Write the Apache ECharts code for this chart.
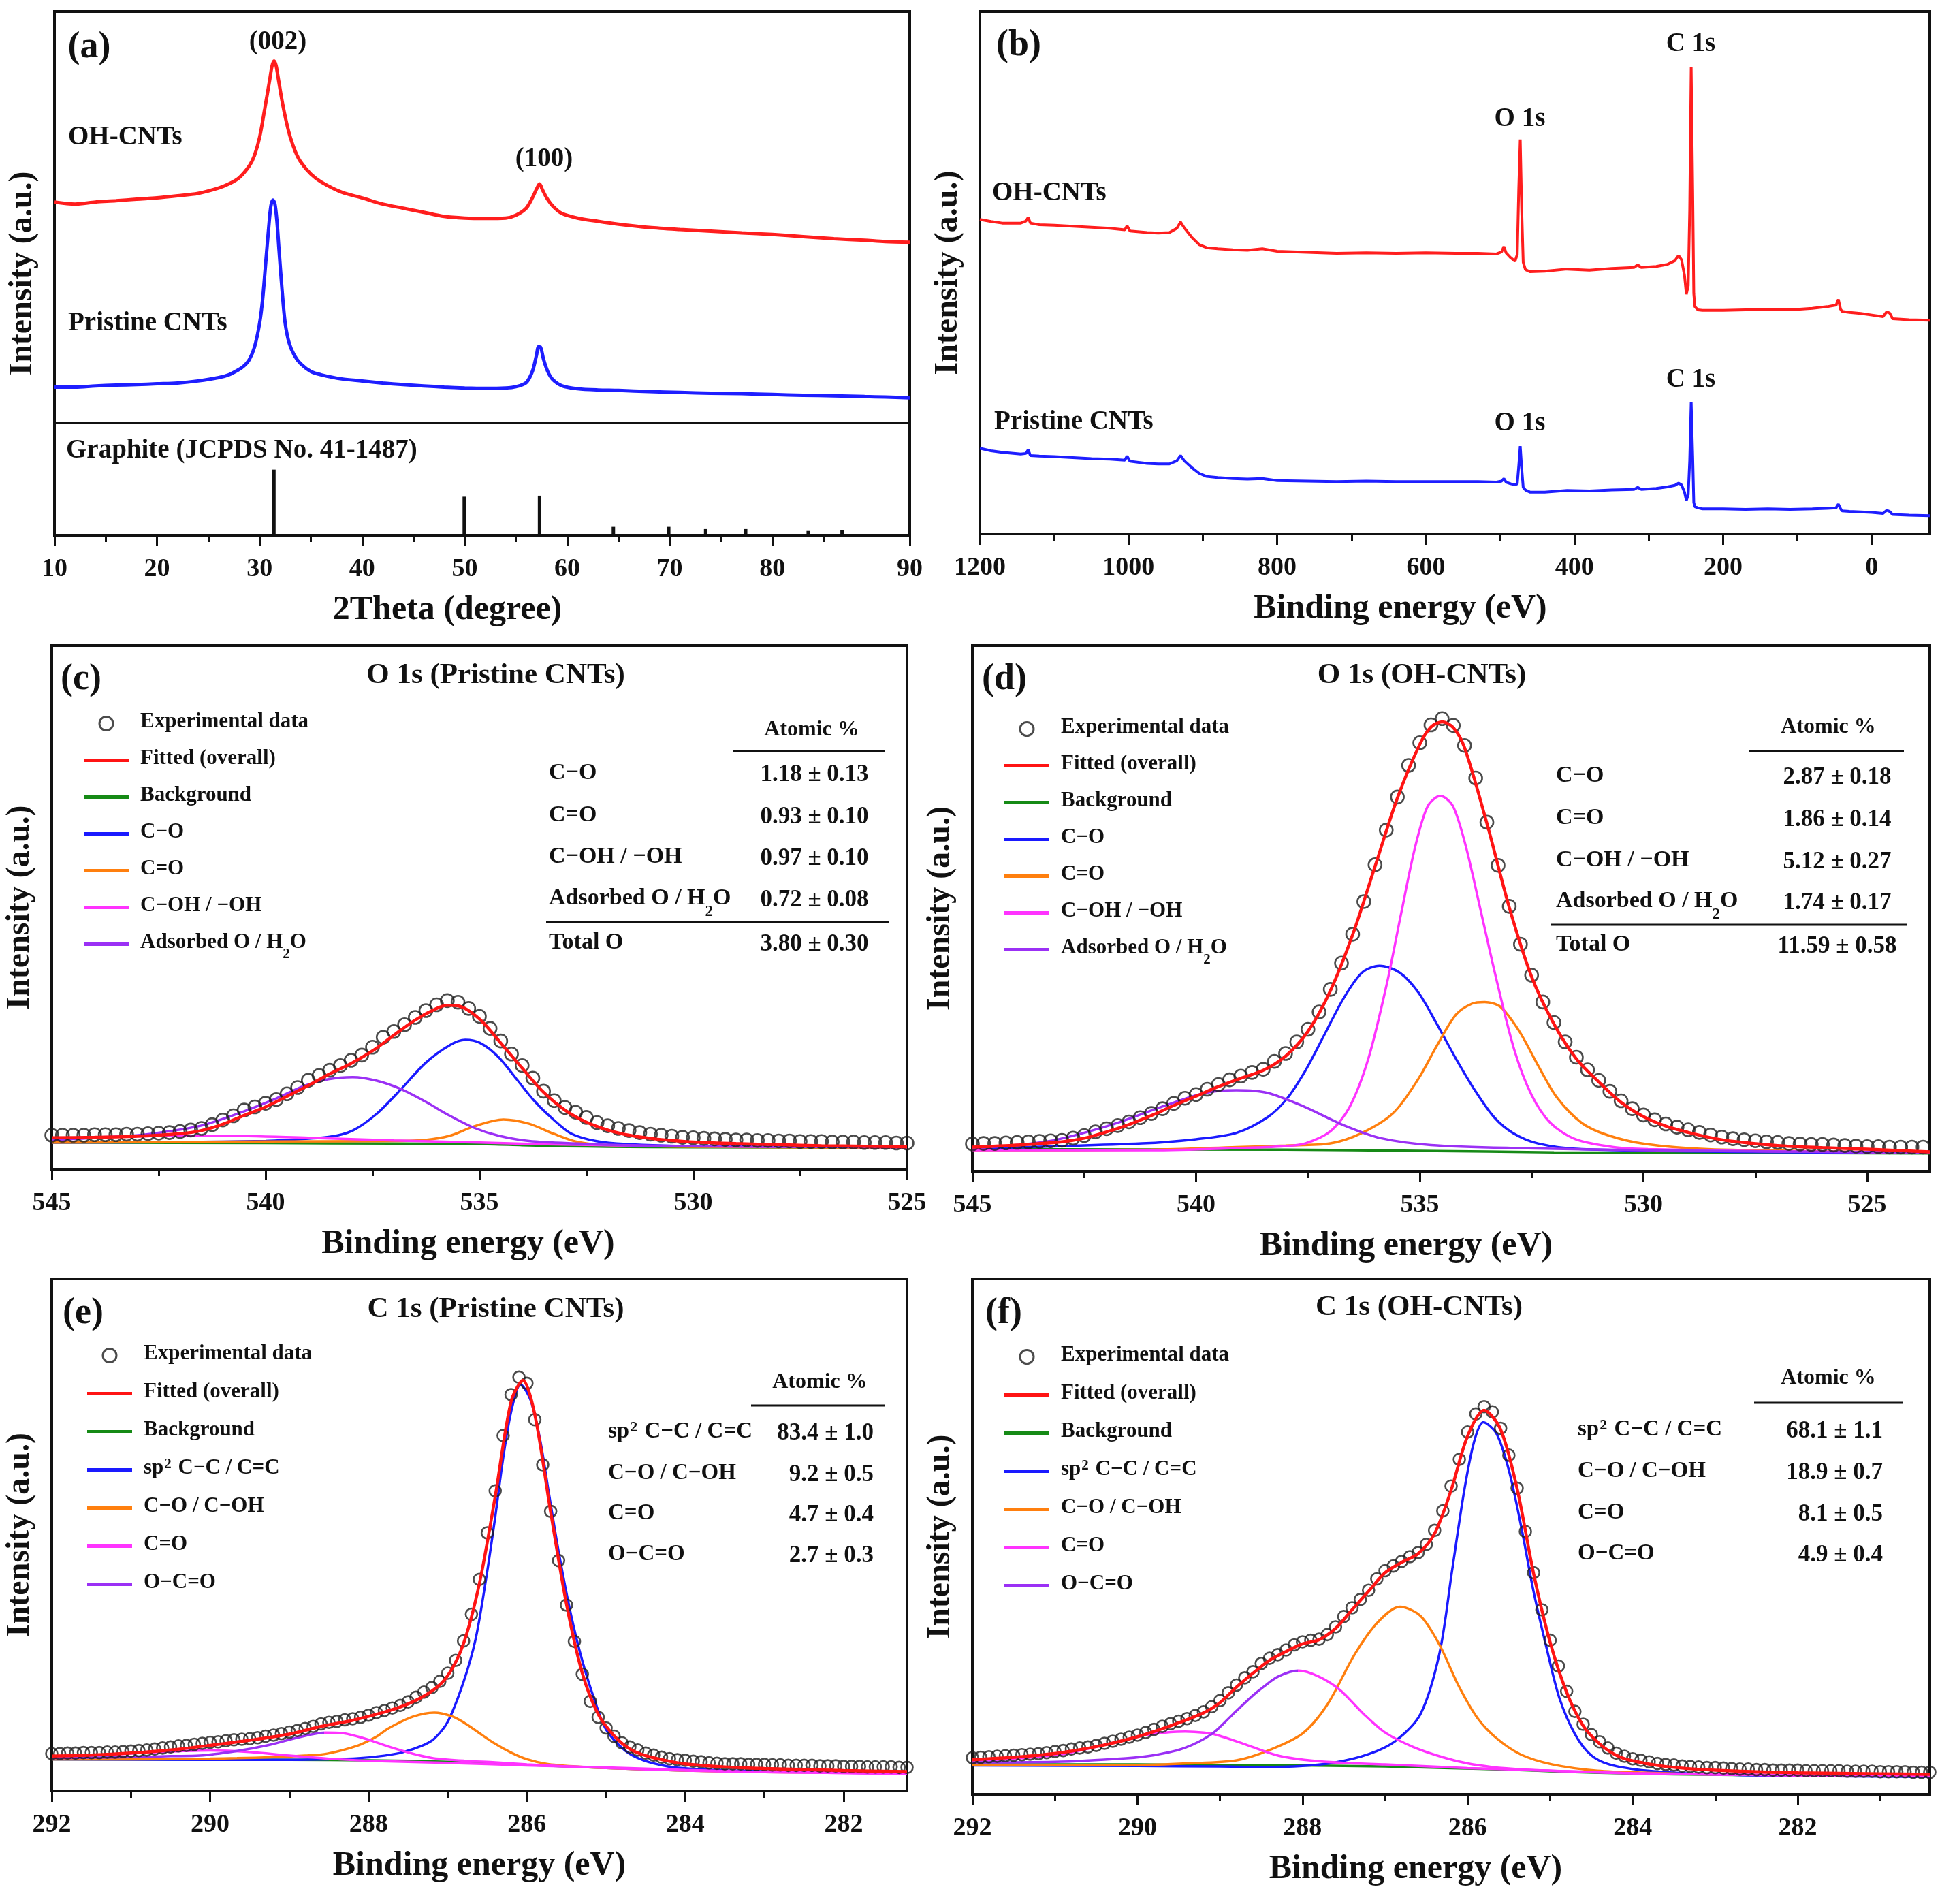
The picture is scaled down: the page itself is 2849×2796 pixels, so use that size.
<!DOCTYPE html>
<html><head><meta charset="utf-8">
<script src="https://cdn.jsdelivr.net/npm/echarts@6/dist/echarts.min.js"></script>
<style>html,body{margin:0;padding:0;background:#fff}#c{width:2849px;height:2796px}</style>
</head><body><div id="c"></div>
<script>
// ---------------- DATA ----------------
// (a) XRD
const xrdRedX = [10,12,14,16,18,20,22,24,26,27,28,29,29.5,30,30.5,31,31.2,31.4,31.6,31.8,32.2,32.6,33,33.5,34,35,36,38,40,42,44,46,48,50,52,54,55,56,56.6,57,57.3,57.6,58,58.6,59.5,61,63,65,68,71,74,77,80,83,86,89,91,93.4];
const xrdRedY = [53.7,53.2,53.7,54.0,54.4,54.7,55.2,55.8,57.1,58.1,59.6,62.5,65.0,69.4,76.3,83.6,86.6,88.0,87.0,84.1,78.2,73.3,69.4,65.9,63.5,60.5,58.6,56.1,54.7,53.2,52.2,51.2,50.2,49.8,49.7,49.8,50.5,52.2,54.7,56.8,58.1,56.6,54.7,52.7,50.9,49.8,49.0,48.3,47.5,47.0,46.6,46.2,45.8,45.3,44.8,44.4,44.1,43.9];
const xrdBlueX = [10,12,14,16,18,20,22,24,26,27,28,28.5,29,29.5,30,30.3,30.6,30.9,31.1,31.3,31.5,31.7,31.9,32.2,32.5,32.9,33.4,34,35,36,38,40,42,44,46,48,50,52,54,55,56,56.6,57,57.2,57.4,57.7,58.1,58.6,59.5,61,63,65,68,71,74,77,80,83,86,89,91,93.4];
const xrdBlueY = [8.7,8.7,9.0,9.2,9.3,9.5,9.7,10.2,11.0,11.7,13.0,13.9,15.4,18.4,24.2,30.1,39.0,47.8,52.7,54.2,53.2,48.8,41.9,32.1,24.2,19.3,16.4,14.4,12.5,11.7,10.7,10.2,9.7,9.3,9.0,8.7,8.5,8.4,8.5,8.8,9.8,12.5,16.4,18.5,18.4,15.4,12.5,10.5,9.0,8.3,8.0,7.9,7.6,7.4,7.2,7.1,6.9,6.7,6.6,6.4,6.3,6.1];
const xrdStickX = [31.4,49.96,57.3,64.5,69.9,73.5,77.4,83.5,86.8];
const xrdStickY = [58.4,34.3,35.2,7.5,7.5,5.5,5.5,3.8,4.4];
const xrdTickValues = [10,20,30,40,50,60,70,80,93.4];
const xrdTickLabels = ['10','20','30','40','50','60','70','80','90'];
const xrdMinorTicks = [15,25,35,45,55,65,75,85];

// (b) survey
const bE = [1200,1185,1170,1145,1138,1135,1132,1120,1100,1075,
 1050,1025,1005,1002,998,975,960,945,935,930,
 925,915,905,895,880,860,840,820,800,760,
 720,680,640,600,560,530,505,498,495,492,
 486,480,477,475,473,471,469,466,460,440,
 410,380,350,320,315,310,290,275,265,260,
 256,252,249.5,247,245,243,241,239.5,238,234,
 228,215,200,170,140,110,80,60,48,45,
 42,40,30,15,0,-15,-20,-24,-28,-50,
 -78];
const bRed = [60.2,59.8,59.5,59.5,59.9,60.6,59.5,59.2,59.1,58.9,
 58.7,58.5,58.2,59.0,58.0,57.7,57.6,57.7,58.5,59.7,
 58.6,56.8,55.4,54.8,54.6,54.4,54.3,54.6,54.1,53.9,
 53.7,53.8,53.7,53.8,53.7,53.7,53.6,54.0,55.0,53.8,
 52.9,52.2,53.5,66.0,75.5,62.0,52.0,50.6,50.2,50.3,
 50.7,50.5,50.8,51.0,51.5,51.0,51.2,51.6,52.3,53.3,
 52.5,49.5,45.9,47.5,62.0,89.4,66.0,46.0,43.5,42.9,
 42.8,42.8,42.8,42.9,42.9,42.9,43.2,43.5,43.8,44.9,
 43.0,42.6,42.4,42.2,41.9,41.6,42.5,42.3,41.2,41.0,
 40.9];
const bBlue = [16.4,15.9,15.6,15.3,15.4,16.1,15.0,14.9,14.8,14.6,
 14.4,14.3,14.1,14.9,13.9,13.5,13.4,13.4,14.0,15.0,
 14.0,12.7,11.6,11.0,10.8,10.6,10.5,10.6,10.2,10.1,
 10.0,10.1,10.0,10.0,10.0,10.0,9.9,10.1,10.6,9.9,
 9.6,9.4,9.6,13.0,16.8,12.5,8.9,8.4,8.0,8.0,
 8.3,8.2,8.4,8.5,8.9,8.5,8.7,9.0,9.3,9.7,
 9.4,8.0,6.4,7.5,14.0,25.3,15.0,6.0,5.2,5.0,
 4.8,4.8,4.8,4.7,4.8,4.7,4.8,4.9,5.0,5.7,
 4.8,4.4,4.3,4.2,4.1,3.9,4.5,4.3,3.7,3.6,
 3.5];
const bMajorTicks = [0,200,400,600,800,1000,1200];
const bMinorTicks = [100,300,500,700,900,1100];

// (c) O 1s pristine
const cExpE = [545,544.75,544.5,544.25,544,543.75,543.5,543.25,543,542.75,
 542.5,542.25,542,541.75,541.5,541.25,541,540.75,540.5,540.25,
 540,539.75,539.5,539.25,539,538.75,538.5,538.25,538,537.75,
 537.5,537.25,537,536.75,536.5,536.25,536,535.75,535.5,535.25,
 535,534.75,534.5,534.25,534,533.75,533.5,533.25,533,532.75,
 532.5,532.25,532,531.75,531.5,531.25,531,530.75,530.5,530.25,
 530,529.75,529.5,529.25,529,528.75,528.5,528.25,528,527.75,
 527.5,527.25,527,526.75,526.5,526.25,526,525.75,525.5,525.25,
 525];
const cExpV = [6.5,6.5,6.5,6.5,6.6,6.6,6.6,6.7,6.7,6.8,
 6.9,7.0,7.2,7.5,7.8,8.5,9.4,10.2,11.3,11.9,
 12.6,13.3,14.4,15.6,17.0,17.9,18.9,19.8,20.8,21.8,
 23.3,25.2,26.3,27.6,29.0,30.3,31.4,32.2,31.9,30.7,
 29.2,26.9,24.5,22.0,19.8,17.4,14.9,13.1,11.8,10.9,
 9.9,8.9,8.3,7.8,7.4,7.0,6.7,6.5,6.3,6.1,
 6.0,5.9,5.8,5.7,5.6,5.6,5.5,5.5,5.4,5.4,
 5.3,5.3,5.3,5.2,5.2,5.2,5.1,5.1,5.1,5.0,
 5.0];
const cFitE = [545,544,543,542,541.5,541,540.5,540,539.5,539,538.5,538,537.5,537,536.5,536,535.75,535.5,535,534.5,534,533.5,533,532.5,532,531.5,531,530.5,530,529,528,527,526,525];
const cFitV = [6.0,6.1,6.3,6.8,7.4,8.6,10.3,11.9,13.9,16.0,18.2,20.2,22.6,25.6,28.5,30.7,31.3,31.2,28.7,24.1,19.3,14.7,11.3,9.0,7.5,6.5,5.9,5.5,5.2,4.9,4.7,4.5,4.4,4.3];
const cBg = [[545,5.1],[540,5.0],[537,4.9],[535,4.8],[534,4.6],[533,4.4],[532,4.3],[530,4.2],[525,4.1]];
const cCO = [[545,5.1],[542,5.2],[540,5.4],[539.5,5.6],[538.5,6.2],[537.96,7.4],[537.4,10.6],[536.83,15.3],[536.26,20.3],[535.69,23.7],[535.33,24.7],[534.98,24.1],[534.55,21.4],[534.13,17.2],[533.7,12.9],[533.27,9.5],[532.85,6.8],[532.28,5.4],[531.57,4.8],[530,4.4],[525,4.2]];
const cCdO = [[545,5.1],[540,5.3],[537,5.4],[536.26,5.6],[535.69,6.4],[535.12,8.2],[534.44,9.5],[533.84,8.7],[533.27,6.8],[532.7,5.2],[532,4.6],[530,4.3],[525,4.1]];
const cCOH = [[545,5.9],[543,6.3],[541,6.4],[539,6.0],[537,5.5],[535,5.1],[533,4.7],[531,4.5],[528,4.3],[525,4.2]];
const cAds = [[545,5.6],[543.5,6.2],[542.65,6.8],[541.52,8.3],[540.52,11.0],[539.81,13.3],[539.1,15.9],[538.53,17.2],[537.96,17.6],[537.4,16.9],[536.83,15.3],[536.26,12.9],[535.69,10.2],[535.12,7.9],[534.55,6.4],[533.84,5.4],[532.7,4.9],[531.3,4.5],[528,4.3],[525,4.2]];

// (d) O 1s OH-CNTs
const dExpE = [545,544.75,544.5,544.25,544,543.75,543.5,543.25,543,542.75,
 542.5,542.25,542,541.75,541.5,541.25,541,540.75,540.5,540.25,
 540,539.75,539.5,539.25,539,538.75,538.5,538.25,538,537.75,
 537.5,537.25,537,536.75,536.5,536.25,536,535.75,535.5,535.25,
 535,534.75,534.5,534.25,534,533.75,533.5,533.25,533,532.75,
 532.5,532.25,532,531.75,531.5,531.25,531,530.75,530.5,530.25,
 530,529.75,529.5,529.25,529,528.75,528.5,528.25,528,527.75,
 527.5,527.25,527,526.75,526.5,526.25,526,525.75,525.5,525.25,
 525,524.75,524.5,524.25,524,523.75];
const dExpV = [5.2,5.3,5.3,5.4,5.5,5.6,5.7,5.8,5.9,6.3,
 6.8,7.5,8.1,8.7,9.4,10.2,11.0,11.9,12.9,13.9,
 14.6,15.6,16.5,17.4,18.1,18.8,19.4,20.9,22.4,24.6,
 27.0,30.3,34.6,39.6,45.1,51.3,58.3,64.9,71.2,77.2,
 81.5,84.9,86.1,84.8,81.0,74.8,66.4,58.2,50.4,43.2,
 37.3,32.2,28.3,24.6,21.7,19.3,17.3,15.2,13.4,11.9,
 10.7,9.8,9.0,8.4,7.9,7.4,6.9,6.5,6.2,6.0,
 5.8,5.6,5.5,5.3,5.2,5.1,5.1,5.0,4.9,4.8,
 4.7,4.7,4.6,4.6,4.6,4.6];
const dFitE = [545,544,543,542.5,542,541.5,541,540.5,540,539.5,539,538.5,538,537.5,537,536.5,536,535.5,535,534.75,534.5,534.25,534,533.5,533,532.5,532,531.5,531,530.5,530,529.5,529,528.5,528,527,526,525,523.6];
const dFitV = [4.6,5.0,5.6,6.3,7.5,8.9,10.6,12.5,14.3,16.1,17.7,19.2,21.9,26.6,34.3,45.0,58.0,71.0,81.2,84.5,85.5,84.4,80.6,66.2,50.2,37.0,28.0,21.4,17.0,13.1,10.4,8.6,7.4,6.4,5.7,4.9,4.5,4.2,3.7];
const dBg = [[545,4.2],[538,4.1],[535,3.9],[532,3.6],[528,3.5],[523.6,3.4]];
const dCO = [[545,4.3],[541.21,5.3],[540,6.1],[539.1,7.3],[538.4,10.3],[537.98,13.7],[537.56,19.1],[537.13,26.0],[536.71,32.8],[536.29,37.8],[535.9,39.1],[535.45,37.8],[535.03,34.0],[534.61,27.9],[534.19,21.4],[533.76,15.3],[533.34,10.3],[532.92,7.3],[532.36,5.3],[531.38,4.2],[528,3.7],[523.6,3.5]];
const dCdO = [[545,4.0],[541,4.1],[539.1,4.6],[538,4.9],[537,5.3],[536.29,7.3],[535.59,11.1],[535.03,17.6],[534.61,24.0],[534.19,29.8],[533.83,31.9],[533.55,32.2],[533.2,31.3],[532.78,26.7],[532.36,20.2],[531.94,14.1],[531.38,9.2],[530.81,6.9],[529.97,5.2],[528.57,4.2],[526,3.8],[523.6,3.6]];
const dCOH = [[545,4.0],[541,4.0],[539.1,4.4],[538,4.8],[537.56,5.3],[537,7.6],[536.57,12.2],[536.15,21.4],[535.73,35.9],[535.42,48.9],[535.1,61.8],[534.82,69.5],[534.54,71.4],[534.26,69.5],[533.97,61.8],[533.62,48.9],[533.27,35.9],[532.88,22.9],[532.5,14.5],[532.08,9.2],[531.52,6.1],[530.67,4.6],[529.9,4.2],[527,3.8],[523.6,3.6]];
const dAds = [[545,4.4],[543.31,5.7],[541.91,8.8],[540.79,12.2],[539.8,14.9],[539.1,15.4],[538.4,14.9],[537.56,12.2],[536.71,8.8],[535.87,6.3],[534.75,5.0],[532.78,4.4],[530,4.0],[526,3.7],[523.6,3.6]];
const oMajorTicks = [525,530,535,540,545];
const oMinorTicks = [527.5,532.5,537.5,542.5];

// (e) C 1s pristine
const eExpE = [292,291.9,291.8,291.7,291.6,291.5,291.4,291.3,291.2,291.1,
 291,290.9,290.8,290.7,290.6,290.5,290.4,290.3,290.2,290.1,
 290,289.9,289.8,289.7,289.6,289.5,289.4,289.3,289.2,289.1,
 289,288.9,288.8,288.7,288.6,288.5,288.4,288.3,288.2,288.1,
 288,287.9,287.8,287.7,287.6,287.5,287.4,287.3,287.2,287.1,
 287,286.9,286.8,286.7,286.6,286.5,286.4,286.3,286.2,286.1,
 286,285.9,285.8,285.7,285.6,285.5,285.4,285.3,285.2,285.1,
 285,284.9,284.8,284.7,284.6,284.5,284.4,284.3,284.2,284.1,
 284,283.9,283.8,283.7,283.6,283.5,283.4,283.3,283.2,283.1,
 283,282.9,282.8,282.7,282.6,282.5,282.4,282.3,282.2,282.1,
 282,281.9,281.8,281.7,281.6,281.5,281.4,281.3,281.2];
const eExpV = [7.3,7.3,7.4,7.4,7.5,7.5,7.5,7.6,7.6,7.7,
 7.8,7.9,8.0,8.2,8.4,8.6,8.8,8.9,9.1,9.3,
 9.5,9.6,9.8,10.0,10.1,10.2,10.4,10.7,10.9,11.2,
 11.5,11.8,12.2,12.6,13.1,13.4,13.6,13.9,14.1,14.4,
 14.8,15.3,15.7,16.2,16.7,17.4,18.3,19.3,20.2,21.4,
 23.0,25.5,29.3,34.5,41.3,50.4,58.6,69.4,77.4,80.8,
 79.6,72.5,63.7,54.6,45.0,36.3,29.2,22.8,17.5,14.4,
 12.3,10.7,9.4,8.6,8.0,7.4,7.0,6.6,6.3,6.1,
 6.0,5.8,5.7,5.5,5.4,5.3,5.3,5.3,5.2,5.2,
 5.2,5.1,5.1,5.0,5.0,5.0,5.0,4.9,4.9,4.9,
 4.8,4.8,4.8,4.7,4.7,4.7,4.7,4.6,4.6];
const eFitE = [292,291.5,291,290.5,290,289.5,289,288.6,288.2,287.8,287.5,287.2,287,286.8,286.6,286.4,286.2,286.05,285.9,285.7,285.5,285.3,285.1,284.9,284.7,284.5,284.2,284,283.5,283,282,281.2];
const eFitV = [6.8,7.0,7.4,8.0,8.9,9.9,11.1,12.6,13.8,15.4,17.0,19.5,22.5,28.8,40.5,57.5,76.0,80.2,73.5,54.5,36.5,23.0,15.0,10.8,8.2,6.9,5.8,5.3,4.7,4.4,4.0,3.8];
const eBg = [[292,6.2],[289,6.1],[288,6.0],[287,5.7],[286,5.1],[285,4.5],[284,4.0],[283,3.8],[281.2,3.6]];
const eSp2 = [[292,6.2],[290,6.1],[289,6.1],[288.5,6.2],[288.13,6.4],[287.8,6.9],[287.56,7.6],[287.3,9.0],[287.17,10.2],[287.0,13.5],[286.8,21.3],[286.65,29.5],[286.52,41.0],[286.4,53.5],[286.3,65.0],[286.2,74.0],[286.08,79.4],[285.95,76.2],[285.83,68.3],[285.72,57.9],[285.6,46.8],[285.45,34.9],[285.3,25.4],[285.14,17.5],[285.0,12.0],[284.76,7.9],[284.53,6.0],[284.22,4.8],[283.9,4.3],[283.46,4.0],[282.5,3.7],[281.2,3.4]];
const eCOC = [[292,6.2],[291,6.2],[290,6.3],[289.66,6.4],[289.2,6.6],[288.8,6.9],[288.52,7.3],[288.13,8.9],[287.9,10.6],[287.75,12.2],[287.44,14.5],[287.17,15.3],[286.95,14.6],[286.79,13.3],[286.6,11.3],[286.41,9.3],[286.2,7.5],[286.0,6.2],[285.75,5.3],[285.4,4.8],[285.0,4.5],[284,4.0],[283,3.7],[281.2,3.5]];
const eCdO = [[292,6.6],[291.5,6.9],[291,7.3],[290.5,7.7],[290,7.9],[289.5,7.6],[289,6.9],[288.5,6.3],[288,5.9],[287,5.5],[286,5.0],[285,4.6],[284,4.1],[283,3.7],[281.2,3.4]];
const eOCO = [[292,6.4],[291.5,6.5],[291,6.6],[290.5,6.8],[290.13,6.9],[289.66,7.8],[289.28,8.9],[288.9,10.4],[288.7,11.1],[288.55,11.4],[288.33,11.3],[288.13,10.6],[287.94,9.7],[287.75,8.7],[287.56,7.8],[287.37,7.0],[287.18,6.4],[286.79,5.9],[286.4,5.6],[286,5.2],[285.5,4.8],[285,4.5],[284,4.0],[283,3.7],[281.2,3.4]];
const eOCOSplit = 288.55;

// (f) C 1s OH-CNTs
const fExpE = [292,291.9,291.8,291.7,291.6,291.5,291.4,291.3,291.2,291.1,
 291,290.9,290.8,290.7,290.6,290.5,290.4,290.3,290.2,290.1,
 290,289.9,289.8,289.7,289.6,289.5,289.4,289.3,289.2,289.1,
 289,288.9,288.8,288.7,288.6,288.5,288.4,288.3,288.2,288.1,
 288,287.9,287.8,287.7,287.6,287.5,287.4,287.3,287.2,287.1,
 287,286.9,286.8,286.7,286.6,286.5,286.4,286.3,286.2,286.1,
 286,285.9,285.8,285.7,285.6,285.5,285.4,285.3,285.2,285.1,
 285,284.9,284.8,284.7,284.6,284.5,284.4,284.3,284.2,284.1,
 284,283.9,283.8,283.7,283.6,283.5,283.4,283.3,283.2,283.1,
 283,282.9,282.8,282.7,282.6,282.5,282.4,282.3,282.2,282.1,
 282,281.9,281.8,281.7,281.6,281.5,281.4,281.3,281.2,281.1,
 281,280.9,280.8,280.7,280.6,280.5,280.4];
const fExpV = [7.1,7.2,7.3,7.4,7.5,7.6,7.7,7.8,7.9,8.1,
 8.3,8.5,8.8,9.0,9.2,9.5,9.9,10.3,10.7,11.1,
 11.5,12.0,12.6,13.2,13.7,14.2,14.7,15.3,16.0,17.0,
 18.2,19.7,21.2,22.6,23.8,25.4,26.4,27.1,28.0,29.0,
 29.6,29.9,30.1,31.0,32.5,34.5,36.2,37.8,39.6,41.8,
 43.4,44.3,45.2,46.1,46.9,48.5,51.2,55.0,59.8,65.0,
 70.3,73.8,75.2,74.2,71.0,65.8,59.4,51.0,43.0,35.8,
 29.9,24.9,20.0,16.1,13.6,11.6,10.2,9.0,8.0,7.4,
 6.9,6.6,6.3,6.0,5.8,5.7,5.5,5.4,5.3,5.2,
 5.2,5.1,5.0,4.9,4.9,4.8,4.8,4.7,4.7,4.7,
 4.7,4.6,4.6,4.6,4.6,4.6,4.5,4.5,4.5,4.5,
 4.4,4.4,4.4,4.4,4.3,4.3,4.3];
const fFitE = [292,291.6,291.2,290.8,290.4,290,289.6,289.2,289,288.8,288.6,288.4,288.2,288,287.8,287.6,287.4,287.2,287,286.8,286.6,286.4,286.2,286,285.8,285.6,285.4,285.2,285,284.8,284.6,284.4,284.2,284,283.6,283,282,281,280.4];
const fFitV = [6.7,7.1,7.6,8.4,9.6,11.2,13.3,15.8,17.8,20.8,23.5,26.0,27.7,29.2,30.0,32.2,35.8,39.4,43.0,45.0,46.7,50.6,59.0,69.5,74.5,70.8,59.3,42.8,29.5,19.8,13.3,9.8,7.6,6.5,5.4,4.7,4.2,4.0,3.9];
const fBg = [[292,5.8],[290,5.8],[289,5.7],[288,5.6],[287,5.4],[286.2,5.1],[285.5,4.8],[285,4.5],[284.4,4.2],[283.5,3.9],[282,3.7],[280.4,3.6]];
const fSp2 = [[292,5.6],[290,5.5],[289,5.4],[288.5,5.3],[288,5.5],[287.6,6.2],[287.2,7.8],[286.88,10.3],[286.57,15.6],[286.34,27.4],[286.19,43.2],[286.04,59.0],[285.92,68.5],[285.81,72.2],[285.65,70.0],[285.5,62.9],[285.35,51.9],[285.2,39.3],[285.04,28.2],[284.89,18.8],[284.7,11.7],[284.51,7.7],[284.28,5.8],[283.82,4.6],[283.06,3.9],[282,3.6],[280.4,3.4]];
const fCOC = [[292,5.7],[290,5.7],[289.4,6.0],[288.8,6.6],[288.4,8.6],[288,11.8],[287.7,17.4],[287.37,27.1],[287.1,33.2],[286.82,36.4],[286.57,34.6],[286.34,29.0],[286.11,21.1],[285.88,14.8],[285.65,10.9],[285.35,7.7],[284.97,5.8],[284.43,4.6],[283.82,4.2],[283,3.9],[280.4,3.6]];
const fCdO = [[292,6.5],[291.5,6.9],[291,7.6],[290.87,7.9],[290.32,9.9],[289.91,11.5],[289.6,12.1],[289.42,12.2],[289.2,12.0],[289.03,11.5],[288.66,9.5],[288.29,7.5],[287.92,6.6],[287.5,6.1],[287,5.8],[286,5.1],[285,4.6],[284,4.1],[282,3.7],[280.4,3.5]];
const fOCO = [[292,6.2],[291,6.3],[290.14,7.0],[289.8,7.6],[289.43,9.0],[289.1,11.7],[288.84,15.6],[288.6,19.2],[288.47,20.9],[288.29,22.9],[288.05,24.0],[287.81,22.9],[287.55,20.3],[287.26,15.6],[287,12.0],[286.66,9.2],[286.3,7.2],[286,6.0],[285.7,5.3],[285.3,4.8],[285,4.6],[284,4.1],[282,3.7],[280.4,3.5]];
const fOCOSplit = 288.05;
const cMajorTicks = [282,284,286,288,290,292];
const eMinorTicks = [283,285,287,289,291];
const fMinorTicks = [281,283,285,287,289,291];

// legend / table text
const oLegend = ['Experimental data','Fitted (overall)','Background','C−O','C=O','C−OH / −OH','Adsorbed O / H2O'];
const cLegend = ['Experimental data','Fitted (overall)','Background','sp2 C−C / C=C','C−O / C−OH','C=O','O−C=O'];
const oTabLabels = ['C−O','C=O','C−OH / −OH','Adsorbed O / H2O','Total O'];
const cTabValues = ['1.18 ± 0.13','0.93 ± 0.10','0.97 ± 0.10','0.72 ± 0.08','3.80 ± 0.30'];
const dTabValues = ['2.87 ± 0.18','1.86 ± 0.14','5.12 ± 0.27','1.74 ± 0.17','11.59 ± 0.58'];
const cTabLabels = ['sp2 C−C / C=C','C−O / C−OH','C=O','O−C=O'];
const eTabValues = ['83.4 ± 1.0','9.2 ± 0.5','4.7 ± 0.4','2.7 ± 0.3'];
const fTabValues = ['68.1 ± 1.1','18.9 ± 0.7','8.1 ± 0.5','4.9 ± 0.4'];

// ---------------- STYLE / BUILD ----------------
const INK = '#111';
const FONT = '"Liberation Serif","Times New Roman",serif';
const COL = {red:'#ff1414', green:'#168a16', blue:'#1a1aff', orange:'#ff7f0e', magenta:'#ff33ff', purple:'#9b30f5', xrdRed:'#ff1e1e', xrdBlue:'#1e1eff'};
const LINE_ICON = 'path://M0,0H66V5H0Z';
const zip = (xs, ys) => xs.map((x, i) => [x, ys[i]]);

function richName(n) {
  if (n.indexOf('H2O') >= 0) { const p = n.split('H2O'); return '{n|' + p[0] + 'H}{sub|2}{n|O' + p[1] + '}'; }
  if (n.indexOf('sp2') === 0) return '{n|sp}{sup|2}{n|' + n.slice(3) + '}';
  return '{n|' + n + '}';
}
function richSet(size, key) {
  const b = {fontFamily: FONT, fontWeight: 'bold'};
  b[key] = INK;
  const sub = Math.round(size * 0.68);
  return {
    n: Object.assign({fontSize: size, lineHeight: size + 6, verticalAlign: 'top'}, b),
    sub: Object.assign({fontSize: sub, lineHeight: sub, verticalAlign: 'top', padding: [size - 8, 0, 0, 0]}, b),
    sup: Object.assign({fontSize: sub, lineHeight: sub, verticalAlign: 'top', padding: [0, 2, 0, 1]}, b)
  };
}
// colour that changes from one hue to another at a data value along x (inverse axis: data[0] is at the left)
function splitStroke(data, splitAt, leftColor, rightColor) {
  const x0 = data[0][0], x1 = data[data.length - 1][0];
  const f = (x0 - splitAt) / (x0 - x1);
  return new echarts.graphic.LinearGradient(0, 0, 1, 0, [
    {offset: 0, color: leftColor}, {offset: f, color: leftColor},
    {offset: f, color: rightColor}, {offset: 1, color: rightColor}]);
}

const grids = [];
function addGrid(left, top, width, height, show) {
  grids.push({left, top, width, height, show: show, borderColor: INK, borderWidth: 4, backgroundColor: 'rgba(0,0,0,0)'});
  return grids.length - 1;
}
const gA = addGrid(80, 17, 1256, 604, true);
const gA2 = addGrid(80, 621, 1256, 165, true);
const gAF = addGrid(80, 17, 1256, 769, false);
const gB = addGrid(1439, 17, 1395, 767, true);
const gC = addGrid(76, 948, 1256, 769, true);
const gD = addGrid(1428, 948, 1406, 772, true);
const gE = addGrid(76, 1878, 1256, 752, true);
const gF = addGrid(1428, 1878, 1406, 757, true);

const xAxes = []; const XI = {};
function hiddenX(g, min, max) { XI[g] = xAxes.length; xAxes.push({type: 'value', gridIndex: g, min, max, show: false}); }
function axisX(g, min, max, inverse, major, labels, fmt, minor, name, padRight) {
  XI[g] = xAxes.length;
  xAxes.push({
    type: 'value', gridIndex: g, min, max, inverse, position: 'bottom',
    axisLine: {show: false},
    axisTick: {show: true, inside: false, length: 16, lineStyle: {color: INK, width: 3}, customValues: major},
    axisLabel: {show: true, customValues: labels, margin: 31, color: INK, fontSize: 38, fontWeight: 'bold', fontFamily: FONT, formatter: fmt, showMinLabel: true, showMaxLabel: true, hideOverlap: false},
    splitLine: {show: false},
    name, nameLocation: 'middle', nameGap: 85,
    nameTextStyle: {fontSize: 50, fontWeight: 'bold', fontFamily: FONT, color: INK, padding: [0, padRight, 0, 0]}
  });
  xAxes.push({
    type: 'value', gridIndex: g, min, max, inverse, position: 'bottom',
    axisLine: {show: false},
    axisTick: {show: true, inside: false, length: 10, lineStyle: {color: INK, width: 3}, customValues: minor},
    axisLabel: {show: false}, splitLine: {show: false}
  });
}
const plain = v => String(v);
hiddenX(gA, 10, 93.4);
axisX(gA2, 10, 93.4, false, xrdTickValues, xrdTickValues, v => xrdTickLabels[xrdTickValues.indexOf(v)], xrdMinorTicks, '2Theta (degree)', 102);
hiddenX(gAF, 0, 1);
axisX(gB, -78, 1200, true, bMajorTicks, bMajorTicks, plain, bMinorTicks, 'Binding energy (eV)', 160);
axisX(gC, 525, 545, true, oMajorTicks, oMajorTicks, plain, oMinorTicks, 'Binding energy (eV)', 33);
axisX(gD, 523.6, 545, true, oMajorTicks, oMajorTicks, plain, oMinorTicks, 'Binding energy (eV)', 132);
axisX(gE, 281.2, 292, true, cMajorTicks, cMajorTicks, plain, eMinorTicks, 'Binding energy (eV)', 0);
axisX(gF, 280.4, 292, true, cMajorTicks, cMajorTicks, plain, fMinorTicks, 'Binding energy (eV)', 104);

const yAxes = grids.map((gr, g) => {
  const named = !(g === gA || g === gA2);
  return {type: 'value', gridIndex: g, min: 0, max: 100, show: true,
    axisLine: {show: false}, axisTick: {show: false}, axisLabel: {show: false}, splitLine: {show: false},
    name: named ? 'Intensity (a.u.)' : '', nameLocation: 'middle', nameGap: 22,
    nameTextStyle: {fontSize: 48, fontWeight: 'bold', fontFamily: FONT, color: INK}};
});

const series = [];
function ln(name, g, data, color, width, smooth, z, stroke) {
  series.push({type: 'line', name, xAxisIndex: XI[g], yAxisIndex: g, data, symbol: 'none', showSymbol: false,
    smooth: smooth, lineStyle: {color: stroke || color, width}, itemStyle: {color}, silent: true, z: z || 2});
  return series.length - 1;
}
function dots(name, g, data, size) {
  series.push({type: 'scatter', name, xAxisIndex: XI[g], yAxisIndex: g, data, symbol: 'circle', symbolSize: size,
    itemStyle: {color: 'rgba(0,0,0,0)', borderColor: '#1e1e1e', borderWidth: 2.6}, silent: true, z: 3});
}
// (a)
ln('OH-CNTs', gA, zip(xrdRedX, xrdRedY), COL.xrdRed, 5, 0.3);
ln('Pristine CNTs', gA, zip(xrdBlueX, xrdBlueY), COL.xrdBlue, 5, 0.3);
series.push({type: 'bar', name: 'Graphite (JCPDS No. 41-1487)', xAxisIndex: XI[gA2], yAxisIndex: gA2, data: zip(xrdStickX, xrdStickY), barWidth: 5, itemStyle: {color: INK}, silent: true});
// (b)
ln('OH-CNTs survey', gB, zip(bE, bRed), COL.xrdRed, 4, false);
ln('Pristine CNTs survey', gB, zip(bE, bBlue), COL.xrdBlue, 4, false);
// (c)
ln('Background', gC, cBg, COL.green, 3.5, 0.3);
ln('C−O', gC, cCO, COL.blue, 3.5, 0.3);
ln('C=O', gC, cCdO, COL.orange, 3.5, 0.3);
ln('C−OH / −OH', gC, cCOH, COL.magenta, 3.5, 0.3);
ln('Adsorbed O / H2O', gC, cAds, COL.purple, 3.5, 0.3);
dots('Experimental data', gC, zip(cExpE, cExpV), 19);
ln('Fitted (overall)', gC, zip(cFitE, cFitV), COL.red, 4.5, 0.3, 4);
// (d)
ln('Background', gD, dBg, COL.green, 3.5, 0.3);
ln('C−O', gD, dCO, COL.blue, 3.5, 0.3);
ln('C=O', gD, dCdO, COL.orange, 3.5, 0.3);
ln('C−OH / −OH', gD, dCOH, COL.magenta, 3.5, 0.3);
ln('Adsorbed O / H2O', gD, dAds, COL.purple, 3.5, 0.3);
dots('Experimental data', gD, zip(dExpE, dExpV), 19);
ln('Fitted (overall)', gD, zip(dFitE, dFitV), COL.red, 4.5, 0.3, 4);
// (e)
ln('Background', gE, eBg, COL.green, 3.5, 0.3);
ln('sp2 C−C / C=C', gE, eSp2, COL.blue, 3.5, 0.3);
ln('C−O / C−OH', gE, eCOC, COL.orange, 3.5, 0.3);
ln('C=O', gE, eCdO, COL.magenta, 3.5, 0.3);
ln('O−C=O', gE, eOCO, COL.purple, 3.5, 0.3, 2, splitStroke(eOCO, eOCOSplit, COL.purple, COL.magenta));
dots('Experimental data', gE, zip(eExpE, eExpV), 17);
ln('Fitted (overall)', gE, zip(eFitE, eFitV), COL.red, 4.5, 0.3, 4);
// (f)
ln('Background', gF, fBg, COL.green, 3.5, 0.3);
ln('sp2 C−C / C=C', gF, fSp2, COL.blue, 3.5, 0.3);
ln('C−O / C−OH', gF, fCOC, COL.orange, 3.5, 0.3);
ln('C=O', gF, fCdO, COL.magenta, 3.5, 0.3);
ln('O−C=O', gF, fOCO, COL.purple, 3.5, 0.3, 2, splitStroke(fOCO, fOCOSplit, COL.purple, COL.magenta));
dots('Experimental data', gF, zip(fExpE, fExpV), 17);
ln('Fitted (overall)', gF, zip(fFitE, fFitV), COL.red, 4.5, 0.3, 4);

const legendColors = [null, COL.red, COL.green, COL.blue, COL.orange, COL.magenta, COL.purple];
function legendFor(left, top, names, gap) {
  return {
    orient: 'vertical', left, top, itemWidth: 66, itemHeight: 20, itemGap: gap, selectedMode: false,
    data: names.map((n, i) => i === 0
      ? {name: n, icon: 'circle', itemStyle: {color: 'rgba(0,0,0,0)', borderColor: '#1e1e1e', borderWidth: 3}}
      : {name: n, icon: LINE_ICON, itemStyle: {color: legendColors[i], borderWidth: 0, opacity: 1}}),
    formatter: richName,
    textStyle: {fontSize: 31, fontWeight: 'bold', fontFamily: FONT, color: INK, padding: [0, 0, 0, 12], rich: richSet(31, 'color')}
  };
}
const legends = [legendFor(118, 1039, oLegend, 23), legendFor(1470, 1047, oLegend, 23), legendFor(123, 1967, cLegend, 25), legendFor(1470, 1969, cLegend, 25)];

// graphics: annotations and tables
const G = [];
function T(x, y, text, size, align) {
  G.push({type: 'text', x, y, silent: true, z: 10, style: {text, fontSize: size, fontFamily: FONT, fontWeight: 'bold', fill: INK, align: align || 'left', verticalAlign: 'middle'}});
}
function TR(x, y, name, size, align) {
  G.push({type: 'text', x, y, silent: true, z: 10, style: {text: richName(name), rich: richSet(size, 'fill'), fontSize: size, fontFamily: FONT, fontWeight: 'bold', fill: INK, align: align || 'left', verticalAlign: 'middle'}});
}
function L(x1, y1, x2, y2) { G.push({type: 'line', silent: true, z: 10, shape: {x1, y1, x2, y2}, style: {stroke: INK, lineWidth: 3}}); }

T(131, 70, '(a)', 54, 'center'); T(1496, 67, '(b)', 54, 'center');
T(119, 998, '(c)', 54, 'center'); T(1475, 998, '(d)', 54, 'center');
T(122, 1929, '(e)', 54, 'center'); T(1474, 1929, '(f)', 54, 'center');
T(728, 992, 'O 1s (Pristine CNTs)', 43, 'center'); T(2088, 992, 'O 1s (OH-CNTs)', 43, 'center');
T(728, 1923, 'C 1s (Pristine CNTs)', 43, 'center'); T(2084, 1920, 'C 1s (OH-CNTs)', 43, 'center');
T(408, 62, '(002)', 39, 'center'); T(799, 234, '(100)', 39, 'center');
T(100, 202, 'OH-CNTs', 39); T(100, 475, 'Pristine CNTs', 39);
T(97, 662, 'Graphite (JCPDS No. 41-1487)', 39);
T(2483, 65, 'C 1s', 39, 'center'); T(2232, 175, 'O 1s', 39, 'center');
T(1457, 284, 'OH-CNTs', 39); T(1460, 620, 'Pristine CNTs', 39);
T(2483, 558, 'C 1s', 39, 'center'); T(2232, 622, 'O 1s', 39, 'center');

function table(hx, hy, lx1, lx2, ly, rows, labX, labSize, valX, valAlign, labels, values, sep) {
  T(hx, hy, 'Atomic %', 32, 'center');
  L(lx1, ly, lx2, ly);
  labels.forEach((lab, i) => { TR(labX, rows[i], lab, labSize, 'left'); T(valX, rows[i], values[i], 35, valAlign); });
  if (sep) L(sep[0], sep[1], sep[2], sep[1]);
}
table(1192, 1072, 1076, 1299, 1103, [1138, 1200, 1261, 1322, 1387], 806, 34, 1196, 'center', oTabLabels, cTabValues, [802, 1354, 1305]);
table(2685, 1068, 2569, 2796, 1103, [1142, 1204, 1266, 1326, 1390], 2285, 34, 2698, 'center', oTabLabels, dTabValues, [2278, 1358, 2800]);
table(1204, 2030, 1103, 1299, 2064, [2105, 2166, 2225, 2285], 893, 33, 1283, 'right', cTabLabels, eTabValues, null);
table(2685, 2024, 2576, 2794, 2060, [2102, 2163, 2224, 2284], 2317, 33, 2765, 'right', cTabLabels, fTabValues, null);

const option = {
  animation: false,
  backgroundColor: '#ffffff',
  textStyle: {fontFamily: FONT},
  grid: grids,
  xAxis: xAxes,
  yAxis: yAxes,
  legend: legends,
  series: series,
  graphic: G
};
const chart = echarts.init(document.getElementById('c'), null, {renderer: 'canvas'});
chart.setOption(option);
</script></body></html>
